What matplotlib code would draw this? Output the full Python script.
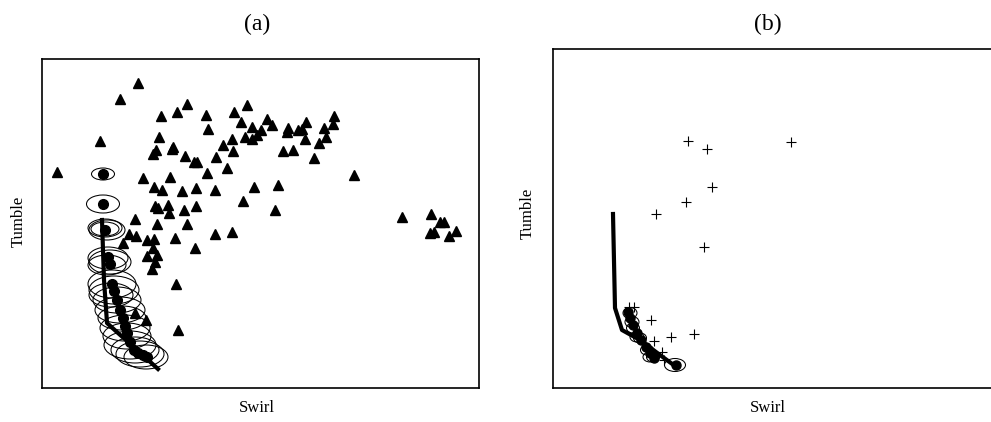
import numpy as np
import matplotlib
matplotlib.use('Agg')
import matplotlib.pyplot as plt
from matplotlib.patches import Ellipse

plt.rcParams['font.family'] = ['Liberation Serif', 'DejaVu Serif']

# panel (a): observed points (swirl, tumble), tumble axis runs downward
tri_x = [138, 120, 187, 177, 161, 206, 234, 247, 241, 252, 267, 272, 261, 257, 245,
         252, 232, 223, 233, 208, 288, 287, 298, 302, 306, 305, 319, 326, 324, 333,
         334, 314, 293, 283, 278, 275, 254, 243, 227, 207, 216, 194, 197, 185, 173,
         172, 156, 153, 159, 100, 57, 143, 154, 162, 170, 182, 196, 215, 155, 158,
         168, 169, 184, 196, 187, 157, 135, 129, 136, 123, 147, 154, 175, 215, 232,
         195, 153, 147, 157, 155, 152, 176, 178, 135, 146, 354, 402, 431, 440, 444,
         430, 434, 449, 456]
tri_y = [83, 99, 104, 112, 116, 115, 112, 105, 122, 127, 119, 125, 130, 135, 137,
         139, 139, 145, 151, 129, 128, 132, 130, 129, 122, 139, 143, 137, 128, 124,
         116, 158, 150, 151, 185, 210, 187, 201, 168, 173, 157, 162, 162, 156, 147,
         149, 150, 154, 137, 141, 172, 178, 187, 190, 177, 191, 188, 190, 206, 208,
         205, 213, 210, 206, 224, 224, 219, 234, 236, 243, 240, 239, 238, 234, 232,
         248, 248, 256, 255, 262, 269, 284, 330, 313, 320, 175, 217, 214, 222, 222,
         233, 232, 236, 231]

# panel (a): fitted centres and their uncertainty ellipses
dot_a_x = [103, 103, 105, 108, 110, 112, 114, 117, 120, 123, 125, 127, 130, 134, 138, 143, 147]
dot_a_y = [174, 204, 230, 257, 264, 284, 291, 300, 310, 318, 326, 333, 342, 350, 353, 355, 357]
ell_a_x = [103, 103, 105, 105, 107, 108, 110, 107, 112, 114, 111, 117, 120, 122, 125, 127, 130, 135, 140, 146]
ell_a_y = [174, 204, 228, 229, 230, 258, 262, 265, 284, 290, 295, 300, 310, 318, 328, 336, 345, 350, 354, 357]
ell_a_w = [23, 33, 34, 28, 36, 40, 42, 38, 48, 50, 44, 48, 50, 48, 50, 48, 52, 48, 48, 44]
ell_a_h = [12, 18, 18, 14, 20, 22, 24, 20, 28, 28, 24, 26, 26, 24, 26, 26, 28, 26, 26, 24]
path_a_x = [102, 104, 107, 118, 135, 158]
path_a_y = [220, 280, 323, 333, 348, 369]

# panel (b)
plus_x = [688, 707, 791, 712, 686, 656, 704, 629, 634, 651, 654, 671, 694, 662, 664]
plus_y = [141, 149, 142, 187, 202, 214, 247, 307, 307, 320, 341, 337, 334, 352, 360]
dot_b_x = [628, 630, 633, 637, 641, 646, 650, 654, 676]
dot_b_y = [312, 318, 325, 333, 340, 347, 353, 358, 365]
ell_b_x = [630, 632, 633, 637, 640, 647, 650, 653, 675]
ell_b_y = [313, 322, 328, 337, 338, 350, 357, 357, 365]
ell_b_w = [14, 14, 13, 14, 13, 13, 14, 13, 21]
ell_b_h = [11, 11, 10, 10, 10, 10, 10, 10, 13]
path_b_x = [613, 615, 622, 640, 660, 675]
path_b_y = [214, 308, 330, 340, 355, 366]

W, H = 991, 422
fig = plt.figure(figsize=(W / 100, H / 100), dpi=100)

ax1 = fig.add_axes([42 / W, (H - 388) / H, 437 / W, 329 / H])
ax2 = fig.add_axes([553 / W, (H - 388) / H, 442 / W, 339 / H])
ax1.set_xlim(42, 479)
ax1.set_ylim(388, 59)
ax2.set_xlim(553, 995)
ax2.set_ylim(388, 49)

ax1.plot(tri_x, tri_y, '^', color='black', markersize=6.5, linestyle='none')
for x, y, w, h in zip(ell_a_x, ell_a_y, ell_a_w, ell_a_h):
    ax1.add_patch(Ellipse((x, y), w, h, fill=False, edgecolor='black', linewidth=0.75))
ax1.plot(dot_a_x, dot_a_y, 'o', color='black', markersize=7, linestyle='none')
ax1.plot(path_a_x, path_a_y, color='black', linewidth=3)

ax2.plot(plus_x, plus_y, '+', color='black', markersize=7, markeredgewidth=0.8, linestyle='none')
for x, y, w, h in zip(ell_b_x, ell_b_y, ell_b_w, ell_b_h):
    ax2.add_patch(Ellipse((x, y), w, h, fill=False, edgecolor='black', linewidth=0.75))
ax2.plot(dot_b_x, dot_b_y, 'o', color='black', markersize=6.5, linestyle='none')
ax2.plot(path_b_x, path_b_y, color='black', linewidth=3)

for ax in (ax1, ax2):
    ax.set_xticks([])
    ax.set_yticks([])
    for s in ax.spines.values():
        s.set_linewidth(1.2)

# titles and axis labels, placed in figure pixels
fig.text(257 / W, 1 - 24 / H, '(a)', fontsize=17, ha='center', va='center')
fig.text(768 / W, 1 - 24 / H, '(b)', fontsize=17, ha='center', va='center')
fig.text(257 / W, 1 - 408 / H, 'Swirl', fontsize=12, ha='center', va='center')
fig.text(768 / W, 1 - 408 / H, 'Swirl', fontsize=12, ha='center', va='center')
fig.text(19 / W, 1 - 221 / H, 'Tumble', fontsize=12, ha='center', va='center', rotation=90)
fig.text(528 / W, 1 - 213 / H, 'Tumble', fontsize=12, ha='center', va='center', rotation=90)

fig.savefig('out.png', dpi=100)
